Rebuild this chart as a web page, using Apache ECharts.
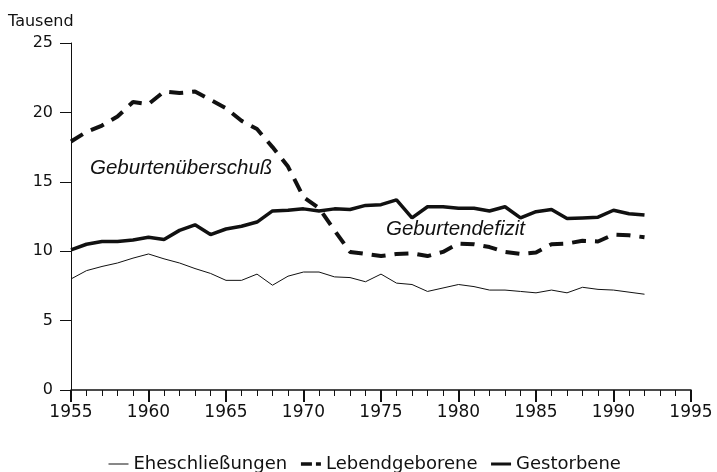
<!DOCTYPE html>
<html>
<head>
<meta charset="utf-8">
<script src="https://cdn.jsdelivr.net/npm/echarts@6/dist/echarts.min.js"></script>
<style>
  html, body { margin: 0; padding: 0; background: #fff; }
  #chart { width: 717px; height: 472px; }
</style>
</head>
<body>
<div id="chart"></div>
<script>
// Jahre 1955-1992, Werte in Tausend
const years = [1955, 1956, 1957, 1958, 1959, 1960, 1961, 1962, 1963, 1964,
  1965, 1966, 1967, 1968, 1969, 1970, 1971, 1972, 1973, 1974,
  1975, 1976, 1977, 1978, 1979, 1980, 1981, 1982, 1983, 1984,
  1985, 1986, 1987, 1988, 1989, 1990, 1991, 1992];

const eheschliessungen = [8.0, 8.6, 8.9, 9.15, 9.5, 9.8, 9.45, 9.15, 8.75, 8.4,
  7.9, 7.9, 8.35, 7.55, 8.2, 8.5, 8.5, 8.15, 8.1, 7.8,
  8.35, 7.7, 7.6, 7.1, 7.35, 7.6, 7.45, 7.2, 7.2, 7.1,
  7.0, 7.2, 7.0, 7.4, 7.25, 7.2, 7.05, 6.9];

const lebendgeborene = [17.9, 18.6, 19.05, 19.7, 20.75, 20.6, 21.5, 21.4, 21.5, 20.9,
  20.3, 19.4, 18.8, 17.5, 16.1, 13.9, 13.1, 11.5, 9.95, 9.8,
  9.65, 9.8, 9.85, 9.65, 9.95, 10.55, 10.5, 10.3, 9.95, 9.8,
  9.9, 10.5, 10.55, 10.75, 10.7, 11.2, 11.15, 11.0];

const gestorbene = [10.1, 10.5, 10.7, 10.7, 10.8, 11.0, 10.85, 11.5, 11.9, 11.2,
  11.6, 11.8, 12.1, 12.9, 12.95, 13.05, 12.9, 13.05, 13.0, 13.3,
  13.35, 13.7, 12.4, 13.2, 13.2, 13.1, 13.1, 12.9, 13.2, 12.4,
  12.85, 13.0, 12.35, 12.4, 12.45, 12.95, 12.7, 12.6];

const pair = arr => years.map((y, i) => [y, arr[i]]);

const chart = echarts.init(document.getElementById('chart'));
const ink = '#111';
const font = 'DejaVu Sans, sans-serif';
const noteFont = 'italic 20.5px Liberation Sans, Arial, sans-serif';

const option = {
  animation: false,
  backgroundColor: '#fff',
  grid: { left: 71, right: 26, top: 43, bottom: 82 },
  xAxis: {
    type: 'value',
    min: 1955,
    max: 1995,
    interval: 5,
    axisLine: { lineStyle: { color: ink, width: 1.5 } },
    axisTick: { length: 12, lineStyle: { color: ink, width: 2 } },
    minorTick: { show: true, splitNumber: 5, length: 6, lineStyle: { color: ink, width: 1 } },
    splitLine: { show: false },
    minorSplitLine: { show: false },
    axisLabel: {
      color: ink, fontSize: 17, fontFamily: font, margin: 14,
      formatter: v => String(v)
    }
  },
  yAxis: {
    type: 'value',
    min: 0,
    max: 25,
    interval: 5,
    axisLine: { show: true, lineStyle: { color: ink, width: 1 } },
    axisTick: { show: true, length: 11, lineStyle: { color: ink, width: 1 } },
    splitLine: { show: false },
    axisLabel: { color: ink, fontSize: 16, fontFamily: font, margin: 18 }
  },
  legend: {
    top: 450,
    left: 103,
    itemWidth: 20,
    itemHeight: 10,
    itemGap: 12,
    itemStyle: { opacity: 0 },
    textStyle: { color: ink, fontSize: 18, fontFamily: font },
    data: [
      { name: 'Eheschließungen', lineStyle: { width: 1 } },
      { name: 'Lebendgeborene', lineStyle: { width: 3.5, type: [11, 4] } },
      { name: 'Gestorbene', lineStyle: { width: 3 } }
    ]
  },
  graphic: [
    {
      type: 'text', left: 8, top: 14,
      style: { text: 'Tausend', fill: ink, font: '16px DejaVu Sans, sans-serif' }
    },
    {
      type: 'text', left: 90, top: 158,
      style: { text: 'Geburtenüberschuß', fill: ink, font: noteFont }
    },
    {
      type: 'text', left: 386, top: 219,
      style: { text: 'Geburtendefizit', fill: ink, font: noteFont }
    }
  ],
  series: [
    {
      name: 'Eheschließungen',
      type: 'line',
      data: pair(eheschliessungen),
      symbol: 'none',
      lineStyle: { color: ink, width: 1 },
      itemStyle: { color: ink }
    },
    {
      name: 'Lebendgeborene',
      type: 'line',
      data: pair(lebendgeborene),
      symbol: 'none',
      lineStyle: { color: ink, width: 4, type: [14, 9] },
      itemStyle: { color: ink }
    },
    {
      name: 'Gestorbene',
      type: 'line',
      data: pair(gestorbene),
      symbol: 'none',
      lineStyle: { color: ink, width: 3.5 },
      itemStyle: { color: ink }
    }
  ]
};

chart.setOption(option);

window.addEventListener('resize', () => {
  chart.resize();
});
</script>
</body>
</html>
